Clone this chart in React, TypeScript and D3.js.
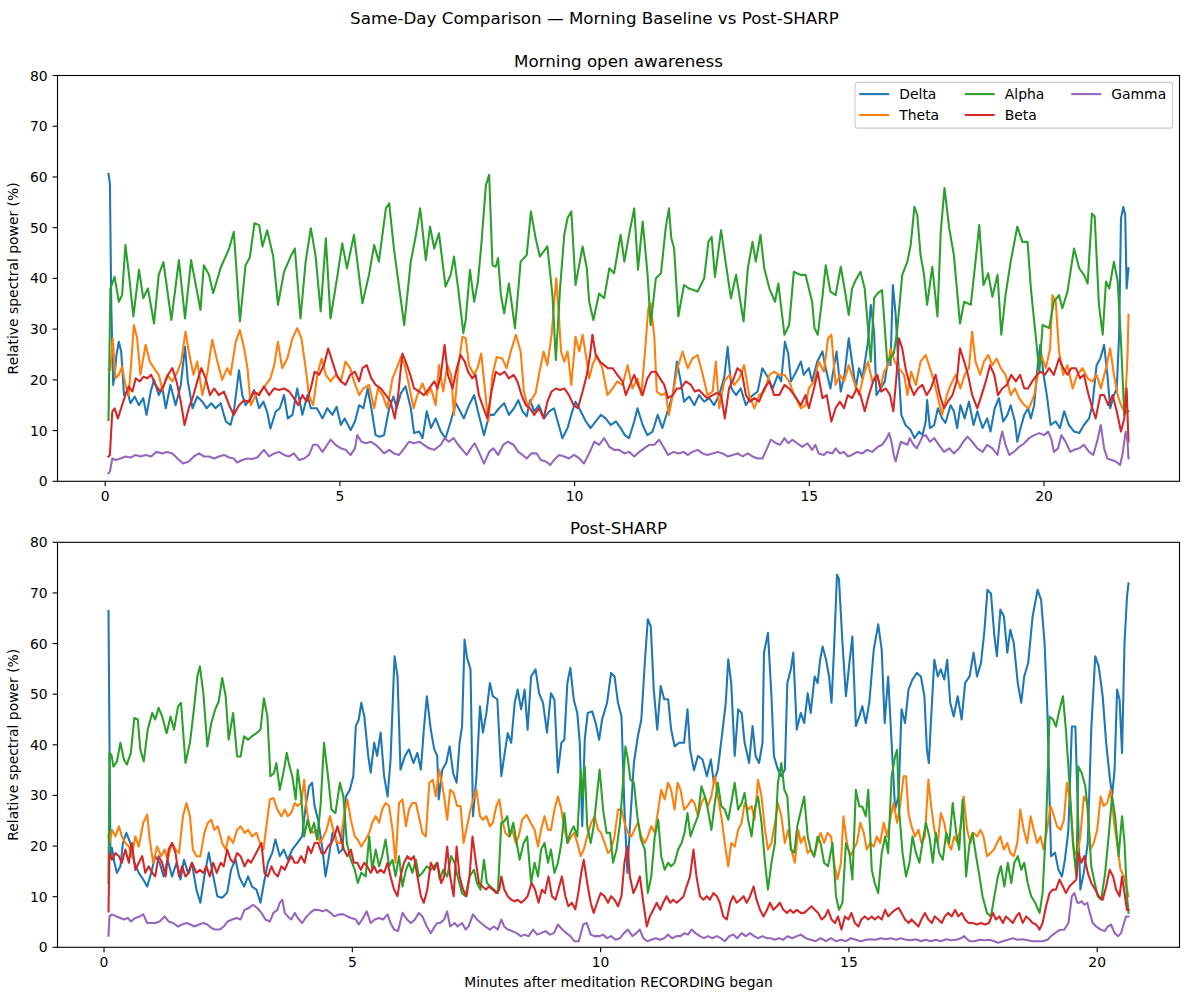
import React from "react";
import * as d3 from "d3";

type Pt = [number, number]; // [minutes, relative power %]

const BANDS = ["Delta", "Theta", "Alpha", "Beta", "Gamma"];
const BAND_COLORS = ["#1f77b4", "#ff7f0e", "#2ca02c", "#d62728", "#9467bd"];
const Y_TICKS = [0, 10, 20, 30, 40, 50, 60, 70, 80];
const X_TICKS = [0, 5, 10, 15, 20];
const Y_DOMAIN: [number, number] = [0, 80];
const SUPTITLE = "Same-Day Comparison — Morning Baseline vs Post-SHARP";
const PANEL_TITLES = ["Morning open awareness", "Post-SHARP"];
const Y_LABEL = "Relative spectral power (%)";
const X_LABEL = "Minutes after meditation RECORDING began";

// ---------------- Morning open awareness ----------------
const morningDelta: Pt[] = [[0.07,60.6],[0.1,58.7],[0.13,34.1],[0.17,19],[0.2,21],[0.24,24.9],[0.29,27.5],[0.34,25.6],[0.4,17],[0.47,17.7],[0.54,15.4],[0.63,16.7],[0.72,15],[0.81,16.4],[0.88,13.1],[0.97,17.7],[1.04,20],[1.14,17],[1.22,18.3],[1.29,14.4],[1.39,19],[1.5,15],[1.61,19],[1.7,26.5],[1.76,19.7],[1.86,14.4],[1.96,16.7],[2.07,15.7],[2.16,14.4],[2.26,15.4],[2.35,14.4],[2.46,15.4],[2.57,11.8],[2.67,11.1],[2.74,13.7],[2.85,21.9],[2.92,17],[2.99,15],[3.1,16.4],[3.17,18],[3.28,14.4],[3.37,15.7],[3.45,13.7],[3.52,10.4],[3.63,13.7],[3.72,14.4],[3.81,17],[3.89,12.4],[3.99,13.1],[4.09,18.3],[4.2,13.1],[4.31,17],[4.38,14.4],[4.51,14.4],[4.63,12.4],[4.73,14.4],[4.84,13.1],[4.93,14.7],[5.02,11.1],[5.1,12.4],[5.23,10.1],[5.32,11.8],[5.41,15],[5.5,14.4],[5.59,18.3],[5.67,14.4],[5.76,9.1],[5.84,8.8],[5.94,9.1],[6.05,14.4],[6.14,16.7],[6.21,14.4],[6.3,17.4],[6.4,18.7],[6.51,14.4],[6.58,9.5],[6.69,9.8],[6.76,8.5],[6.85,13.8],[6.94,10.5],[7.04,12.4],[7.15,9.8],[7.25,8.5],[7.36,11.8],[7.47,15.4],[7.56,13.8],[7.64,12.4],[7.75,15],[7.86,17],[7.94,13.8],[8.07,9.1],[8.18,13.1],[8.28,13.1],[8.39,14.4],[8.5,15.4],[8.6,13.1],[8.71,14.4],[8.8,16],[8.89,13.8],[8.98,12.8],[9.05,16],[9.14,13.8],[9.24,15],[9.35,12.4],[9.46,13.8],[9.56,14.4],[9.65,11.5],[9.74,8.5],[9.85,10.5],[9.95,13.8],[10.02,15.7],[10.13,13.8],[10.24,11.8],[10.34,10.5],[10.45,11.8],[10.56,13.1],[10.66,12.4],[10.77,11.1],[10.88,11.8],[10.98,10.5],[11.07,9.1],[11.16,8.5],[11.27,11.8],[11.34,14.4],[11.45,11.1],[11.55,9.1],[11.66,9.8],[11.77,13.1],[11.87,10.5],[11.98,13.8],[12.09,17],[12.18,23.6],[12.26,19.7],[12.33,15.7],[12.44,16.7],[12.55,15],[12.65,17],[12.76,15.7],[12.87,16.4],[12.97,15],[13.08,17],[13.19,20.6],[13.26,26.5],[13.34,18.3],[13.44,17],[13.54,18.3],[13.65,15],[13.76,16.7],[13.9,17.7],[14.0,22.3],[14.11,20.6],[14.22,18.3],[14.33,21],[14.4,19.7],[14.48,27.5],[14.55,25.2],[14.61,19.7],[14.72,21.6],[14.82,23.6],[14.88,21],[14.99,22.3],[15.06,19.7],[15.17,23.6],[15.28,25.6],[15.35,22.3],[15.45,18.3],[15.52,22.3],[15.58,25.6],[15.67,17.7],[15.75,21],[15.84,28.2],[15.94,21.6],[15.99,18.3],[16.06,22.3],[16.13,20.3],[16.25,27.5],[16.31,34.8],[16.38,29.5],[16.43,17],[16.52,18.3],[16.61,19.7],[16.68,24.2],[16.73,22.9],[16.78,38.7],[16.84,32.8],[16.91,21],[16.96,13.1],[17.05,11.1],[17.16,10.1],[17.24,8.5],[17.34,9.8],[17.41,9.1],[17.48,11.8],[17.51,16],[17.57,10.5],[17.66,11.1],[17.74,14.4],[17.83,12.4],[17.9,11.5],[18.01,15],[18.08,13.8],[18.15,10.5],[18.22,15],[18.31,12.4],[18.4,15.7],[18.5,11.1],[18.58,13.8],[18.69,10.5],[18.79,12.4],[18.86,9.8],[18.95,14.4],[19.04,16.4],[19.13,11.8],[19.22,13.1],[19.29,15],[19.38,11.8],[19.43,7.8],[19.5,10.5],[19.58,13.1],[19.66,14.4],[19.72,12.4],[19.79,15],[19.86,22.3],[19.92,26.9],[19.99,21],[20.06,17],[20.14,11.1],[20.25,11.8],[20.34,10.5],[20.43,13.8],[20.53,11.1],[20.64,9.8],[20.75,9.5],[20.85,11.1],[20.96,12.4],[21.03,15],[21.12,22.9],[21.2,24.2],[21.28,26.9],[21.35,21],[21.41,14.4],[21.49,17],[21.55,18.3],[21.6,28.9],[21.64,51.8],[21.69,54.1],[21.73,52.5],[21.76,38],[21.78,40],[21.8,42]];

const morningTheta: Pt[] = [[0.07,22],[0.11,22],[0.16,28.2],[0.22,20.3],[0.29,21],[0.36,22.6],[0.43,19],[0.5,17],[0.55,22.9],[0.61,30.8],[0.68,28.2],[0.75,21],[0.86,26.9],[0.95,23.6],[1.04,22.3],[1.14,21],[1.22,18],[1.32,21],[1.43,19.7],[1.54,21.6],[1.62,23.6],[1.71,29.5],[1.78,25.6],[1.88,21],[1.96,23.6],[2.07,17],[2.17,21],[2.28,27.9],[2.39,23.6],[2.49,20],[2.6,22.3],[2.67,21],[2.78,27.5],[2.87,29.8],[2.96,26.2],[3.03,22.3],[3.1,15],[3.21,17],[3.31,17.7],[3.42,19],[3.52,20.3],[3.6,22.9],[3.68,27.5],[3.77,22.3],[3.88,24.2],[3.99,28.2],[4.09,30.2],[4.18,28.2],[4.27,22.3],[4.34,17],[4.43,15],[4.52,21],[4.61,24.2],[4.7,21],[4.8,19.7],[4.91,21],[5.02,19.7],[5.12,23.6],[5.22,22.3],[5.3,19.7],[5.41,17],[5.5,18.3],[5.62,19],[5.73,14.4],[5.81,18.3],[5.91,17],[6.01,14.4],[6.12,20.3],[6.21,22.3],[6.3,24.5],[6.38,22.9],[6.47,19],[6.57,14.4],[6.65,17],[6.76,19.3],[6.85,17],[6.94,18.3],[7.04,15],[7.11,22.9],[7.2,17.7],[7.29,22.9],[7.37,21],[7.43,13.1],[7.52,22.3],[7.61,28.5],[7.68,28.2],[7.75,22.9],[7.86,21],[7.93,22.3],[8.01,25.2],[8.08,19],[8.16,11.8],[8.25,21],[8.34,24.5],[8.46,24.2],[8.55,22.3],[8.64,25.6],[8.75,28.9],[8.85,25.6],[8.92,17.7],[9.01,14.4],[9.1,16.4],[9.17,17.4],[9.24,21],[9.34,25.6],[9.42,22.9],[9.51,28.9],[9.56,34.8],[9.61,40],[9.66,33.5],[9.71,25.6],[9.78,23.6],[9.85,25.6],[9.93,19],[10.02,28.5],[10.1,25.6],[10.17,28.9],[10.24,24.9],[10.31,20.3],[10.38,22.9],[10.47,24.9],[10.59,22.3],[10.7,17],[10.81,18.3],[10.91,19.7],[11.02,19],[11.13,22.9],[11.23,18.3],[11.34,20.3],[11.42,17],[11.5,25.6],[11.57,34.1],[11.62,35.1],[11.7,28.2],[11.75,17.7],[11.85,17],[11.94,17.4],[12.01,13.1],[12.09,17],[12.19,22.3],[12.3,25.6],[12.41,22.3],[12.51,24.2],[12.62,24.9],[12.73,21],[12.83,17],[12.94,17.7],[13.01,23.6],[13.08,14.4],[13.19,19.7],[13.3,21],[13.4,19],[13.51,20.3],[13.61,22.9],[13.72,17],[13.83,14.4],[13.93,17],[14.04,17.7],[14.15,21],[14.25,21.6],[14.36,21],[14.47,21],[14.57,19.7],[14.68,17],[14.82,14.4],[14.92,15],[14.99,18.3],[15.1,19.7],[15.2,23.6],[15.31,21.6],[15.4,28.2],[15.47,28.9],[15.56,19],[15.65,21],[15.74,19.7],[15.84,22.9],[15.95,19.7],[16.06,17],[16.16,21],[16.25,23.6],[16.34,19.7],[16.43,21],[16.52,18.3],[16.59,21.6],[16.68,22.9],[16.73,26.2],[16.82,23.6],[16.91,22.3],[17.02,21],[17.09,17],[17.17,21.6],[17.27,19],[17.37,23.6],[17.48,24.9],[17.57,22.3],[17.66,19.7],[17.76,15.7],[17.83,13.1],[17.93,17],[18.01,19],[18.12,21],[18.22,18.3],[18.31,21],[18.4,22.3],[18.47,29.5],[18.54,23.6],[18.64,21],[18.72,23.6],[18.81,24.9],[18.9,22.9],[18.99,24.2],[19.08,22.3],[19.18,21],[19.29,17],[19.38,18.3],[19.47,16.4],[19.58,15],[19.68,14.4],[19.79,17],[19.87,21],[19.94,24.9],[20.04,22.3],[20.13,26.2],[20.18,36.7],[20.25,35.4],[20.32,25.6],[20.41,21],[20.5,22.9],[20.61,18.3],[20.71,21],[20.82,22.3],[20.93,20.3],[21.03,19.7],[21.12,21],[21.21,18.3],[21.32,22.3],[21.41,26.2],[21.49,21],[21.57,17],[21.64,15],[21.71,13.8],[21.76,21],[21.78,24.9],[21.8,32.8]];

const morningAlpha: Pt[] = [[0.07,12.1],[0.11,38],[0.2,40.3],[0.29,35.4],[0.36,36.7],[0.43,46.6],[0.5,41.3],[0.6,32.5],[0.72,41.7],[0.81,36.1],[0.91,38],[1.04,31.1],[1.14,40.7],[1.24,43.2],[1.41,31.8],[1.57,43.6],[1.7,32.1],[1.83,43.6],[2.03,33.8],[2.1,42.6],[2.21,40.7],[2.3,37.1],[2.46,42.1],[2.64,45.9],[2.74,49.2],[2.87,31.5],[2.99,42.6],[3.08,44.1],[3.18,50.9],[3.28,50.5],[3.35,46.3],[3.45,49.5],[3.58,44.3],[3.68,34.8],[3.81,41.3],[3.95,44.3],[4.04,45.9],[4.16,32.1],[4.27,43.3],[4.38,49.9],[4.48,44.6],[4.59,33.5],[4.7,47.9],[4.8,32.1],[4.95,40.7],[5.05,46.9],[5.15,42],[5.3,48.6],[5.48,35.1],[5.62,40.7],[5.73,46.6],[5.83,43.3],[5.98,53.8],[6.05,54.8],[6.15,45.9],[6.37,30.8],[6.51,43.3],[6.62,48.6],[6.71,53.8],[6.83,43.6],[6.92,50.2],[7.01,45.9],[7.11,48.9],[7.25,38.4],[7.36,40.7],[7.43,44.3],[7.52,38],[7.63,29.2],[7.68,31.8],[7.77,41.7],[7.86,35.4],[7.94,39.4],[8.01,46.3],[8.11,58.4],[8.18,60.4],[8.25,42.6],[8.32,42.3],[8.37,44],[8.43,36.7],[8.5,33.1],[8.6,39],[8.73,30.2],[8.85,43.3],[8.98,44.6],[9.07,53.2],[9.17,47.9],[9.26,44.3],[9.42,46.3],[9.53,36.4],[9.6,23.9],[9.69,38],[9.78,48.6],[9.85,51.9],[9.93,53.2],[10.02,38.7],[10.17,46.3],[10.26,42],[10.31,35.4],[10.4,31.8],[10.52,37],[10.63,36.1],[10.74,42],[10.84,41],[10.98,48.6],[11.06,43.3],[11.16,48.6],[11.27,53.8],[11.35,41.7],[11.45,51.2],[11.55,41.3],[11.62,30.8],[11.73,40],[11.84,41],[11.94,49.9],[12.01,53.8],[12.06,47.9],[12.12,45.9],[12.21,32.5],[12.33,38.7],[12.44,38],[12.62,37.4],[12.76,40],[12.85,47.2],[12.92,48.2],[12.99,40.3],[13.12,49.5],[13.22,43],[13.33,36.1],[13.44,40.7],[13.6,31.5],[13.69,42],[13.79,47.2],[13.86,43.3],[13.96,48.6],[14.04,42],[14.15,38],[14.27,35.4],[14.34,39],[14.47,28.9],[14.57,30.8],[14.67,41.3],[14.81,40.7],[14.92,40.7],[14.99,38],[15.06,35.4],[15.11,30.2],[15.18,28.9],[15.28,36.4],[15.35,42.6],[15.45,37.4],[15.56,36.7],[15.67,42.3],[15.75,38],[15.84,32.8],[15.91,38],[15.99,39.7],[16.09,41.3],[16.18,38],[16.31,23.6],[16.38,36.1],[16.46,37.1],[16.55,37.7],[16.66,23.6],[16.8,25.2],[16.87,29.5],[16.98,40.7],[17.09,43.3],[17.16,46.6],[17.24,54.1],[17.3,52.5],[17.37,44.6],[17.44,41],[17.51,34.8],[17.62,42.3],[17.73,32.5],[17.8,49.2],[17.88,57.8],[17.98,49.9],[18.08,44.6],[18.21,31.1],[18.3,35.4],[18.44,34.8],[18.54,43.3],[18.62,50.5],[18.71,38.7],[18.81,41],[18.9,36.4],[19.01,40.7],[19.09,28.9],[19.18,36.7],[19.29,43.3],[19.43,50.2],[19.54,47.2],[19.65,47.2],[19.72,38],[19.82,28.9],[19.9,21.6],[19.97,30.8],[20.11,30.2],[20.21,35.4],[20.32,36.7],[20.39,34.1],[20.5,37.4],[20.64,45.9],[20.75,42],[20.85,40.7],[20.93,39],[21.02,52.8],[21.08,52.2],[21.17,34.8],[21.25,28.9],[21.32,39.4],[21.39,38],[21.49,43.3],[21.57,39.4],[21.64,27.5],[21.71,13.1],[21.76,13.8],[21.8,13.8]];

const morningBeta: Pt[] = [[0.07,4.9],[0.1,5.2],[0.15,13.7],[0.2,14.4],[0.27,12.4],[0.36,15],[0.43,17],[0.5,18.7],[0.58,17.7],[0.65,20.3],[0.74,19.7],[0.81,20.6],[0.9,20.3],[0.98,21],[1.07,19],[1.17,17.7],[1.25,19],[1.34,21],[1.43,22.3],[1.52,19.7],[1.61,15.7],[1.69,11.1],[1.78,14.4],[1.88,17],[1.96,19.7],[2.05,22.3],[2.14,20.3],[2.23,17],[2.32,18.3],[2.42,17],[2.53,17.7],[2.64,15],[2.74,13.1],[2.85,15],[2.96,16],[3.06,15.7],[3.17,17.7],[3.28,17],[3.38,18.7],[3.49,17],[3.6,18.3],[3.7,18],[3.81,18.3],[3.92,17.7],[4.02,16.4],[4.11,15],[4.2,17],[4.29,15.7],[4.38,18.3],[4.46,21.6],[4.56,21],[4.66,22.9],[4.75,26.2],[4.84,23.6],[4.93,21],[5.02,19.7],[5.12,19],[5.22,21],[5.32,21.6],[5.41,19.7],[5.48,22.3],[5.57,22.9],[5.67,20.3],[5.76,19],[5.87,18.3],[5.98,17],[6.08,15.7],[6.17,12.4],[6.24,17],[6.33,25.2],[6.4,23.6],[6.5,21],[6.58,18.3],[6.69,17.7],[6.79,17],[6.9,18.3],[7.01,19.7],[7.08,18.3],[7.15,21],[7.23,26.9],[7.3,21],[7.4,18.3],[7.49,22.3],[7.57,24.9],[7.66,23.6],[7.73,21.6],[7.82,20.3],[7.89,21],[7.96,17],[8.06,14.4],[8.14,12.4],[8.23,17.7],[8.32,21.6],[8.41,21],[8.51,21.6],[8.6,20.3],[8.7,21],[8.78,19.7],[8.87,17],[8.96,15],[9.05,14.4],[9.14,13.1],[9.24,14.4],[9.34,12.4],[9.42,15.7],[9.51,17.7],[9.6,18.3],[9.69,18],[9.78,18.3],[9.88,17],[9.98,15],[10.07,14.4],[10.17,17.7],[10.26,21],[10.33,24.9],[10.38,28.9],[10.45,24.9],[10.54,23.6],[10.63,22.9],[10.71,22.3],[10.81,22.3],[10.91,21],[11.02,19.7],[11.09,17],[11.18,19],[11.27,21],[11.35,19],[11.45,17],[11.55,20.3],[11.64,21.6],[11.73,21.6],[11.82,20.3],[11.91,19],[11.99,16.4],[12.09,17],[12.18,18.3],[12.26,18.3],[12.37,19.7],[12.48,19],[12.56,17.7],[12.65,18],[12.75,17],[12.83,16.4],[12.94,17],[13.03,17.4],[13.12,17],[13.2,12.4],[13.29,18.3],[13.39,20.3],[13.47,22.3],[13.56,21.6],[13.65,17],[13.74,15.7],[13.83,16.4],[13.93,15.7],[14.04,18.3],[14.15,19.7],[14.25,17],[14.36,17],[14.47,19],[14.57,18.3],[14.68,17],[14.82,15],[14.92,17],[14.99,14.4],[15.1,18.3],[15.18,21.6],[15.28,16.4],[15.37,17],[15.47,11.8],[15.56,14.4],[15.65,15.7],[15.74,14.4],[15.82,17],[15.91,16.4],[16.01,18.3],[16.09,17],[16.18,13.8],[16.27,17],[16.36,19.7],[16.45,21],[16.53,17.7],[16.63,18.3],[16.72,17],[16.79,13.8],[16.86,21],[16.91,28.2],[16.98,26.2],[17.05,22.3],[17.14,19],[17.23,17],[17.31,18.3],[17.41,19],[17.5,17],[17.59,18.3],[17.69,21],[17.78,17],[17.87,14.4],[17.95,15.7],[18.05,17],[18.14,19.7],[18.21,26.2],[18.3,23.6],[18.38,21],[18.47,17],[18.58,14.4],[18.67,17],[18.76,19.7],[18.85,22.9],[18.94,21],[19.02,17],[19.11,18.3],[19.21,19],[19.3,21],[19.4,19.7],[19.49,21],[19.58,18.3],[19.66,18.3],[19.75,19.7],[19.85,21],[19.93,21.6],[20.02,21],[20.11,22.3],[20.21,21],[20.32,24.2],[20.41,22.3],[20.5,21],[20.58,22.3],[20.68,22.3],[20.77,20.3],[20.85,21],[20.95,17],[21.03,14.4],[21.1,12.4],[21.2,17],[21.28,17],[21.37,15],[21.46,17],[21.55,13.8],[21.64,9.8],[21.71,12.4],[21.76,18.3],[21.8,7.8]];

const morningGamma: Pt[] = [[0.07,1.6],[0.1,1.9],[0.15,4.5],[0.22,4.2],[0.33,4.5],[0.43,4.9],[0.54,4.7],[0.65,5.2],[0.75,4.9],[0.86,5.2],[0.98,4.9],[1.09,5.8],[1.22,5.5],[1.32,5.8],[1.43,5.5],[1.54,4.5],[1.66,3.5],[1.78,3.9],[1.89,4.9],[2.0,5.5],[2.1,4.9],[2.21,4.9],[2.32,4.5],[2.42,4.9],[2.53,5.2],[2.64,4.7],[2.74,4.5],[2.81,3.7],[2.92,4.2],[3.03,4.5],[3.13,4.4],[3.24,4.7],[3.38,6.2],[3.49,4.9],[3.6,5.5],[3.7,5.8],[3.81,5.2],[3.92,4.9],[4.02,5.5],[4.13,4.2],[4.24,4.5],[4.34,5.2],[4.43,7.2],[4.52,7.2],[4.63,5.8],[4.73,7.2],[4.8,8.2],[4.91,7.2],[5.02,6.5],[5.12,6.2],[5.23,5.2],[5.32,6.5],[5.37,9.1],[5.46,7.8],[5.55,7.5],[5.66,7.8],[5.76,7.2],[5.84,6.5],[5.94,5.5],[6.05,6.2],[6.15,5.5],[6.26,5.2],[6.37,6.5],[6.47,7.8],[6.58,7.5],[6.69,7.8],[6.79,7.2],[6.9,6.5],[7.01,6.2],[7.15,7.2],[7.23,8.5],[7.32,7.8],[7.42,8.5],[7.52,7.2],[7.61,6.2],[7.7,5.2],[7.79,6.5],[7.87,7.5],[7.96,5.8],[8.07,3.5],[8.18,5.8],[8.27,6.5],[8.37,5.2],[8.48,7.2],[8.58,7.8],[8.7,7.2],[8.8,5.8],[8.89,5.2],[8.98,4.5],[9.08,5.5],[9.19,5.5],[9.28,4.2],[9.39,3.9],[9.48,3.2],[9.56,4.2],[9.67,5.2],[9.78,4.9],[9.88,4.5],[9.99,5.2],[10.1,4.5],[10.2,3.5],[10.31,5.5],[10.42,7.8],[10.52,7.2],[10.63,8.5],[10.74,6.8],[10.84,6.2],[10.95,6.2],[11.06,5.5],[11.16,5.8],[11.27,4.9],[11.38,5.8],[11.48,6.5],[11.59,7.2],[11.7,7.2],[11.8,8.2],[11.91,6.5],[11.99,5.2],[12.11,5.8],[12.21,5.5],[12.32,5.8],[12.41,5.2],[12.51,5.8],[12.62,6.2],[12.73,5.5],[12.83,5.2],[12.94,5.5],[13.05,5.8],[13.15,5.5],[13.26,4.9],[13.37,5.2],[13.47,5.5],[13.58,4.9],[13.69,5.5],[13.79,4.9],[13.9,4.5],[14.0,4.5],[14.1,6.5],[14.18,8.2],[14.29,7.5],[14.38,7.2],[14.47,8.5],[14.55,7.5],[14.64,8.2],[14.74,7.5],[14.85,6.8],[14.96,7.5],[15.06,6.2],[15.13,7.2],[15.2,5.5],[15.31,5.2],[15.38,5.8],[15.49,5.5],[15.56,6.5],[15.65,5.5],[15.74,5.8],[15.82,4.9],[15.91,5.2],[16.02,5.8],[16.13,5.5],[16.23,6.2],[16.34,5.8],[16.46,6.8],[16.55,7.2],[16.65,8.5],[16.7,9.5],[16.75,7.8],[16.8,5.2],[16.84,3.9],[16.89,5.8],[16.95,7.8],[17.02,7.5],[17.09,7.2],[17.14,8.5],[17.22,7.2],[17.29,6.5],[17.41,8.8],[17.48,9.1],[17.57,7.8],[17.66,8.5],[17.76,7.2],[17.87,5.8],[17.98,6.5],[18.08,5.5],[18.19,6.5],[18.28,7.8],[18.37,8.8],[18.47,7.8],[18.58,6.5],[18.69,5.8],[18.79,7.2],[18.9,6.5],[19.01,5.2],[19.06,7.8],[19.11,9.8],[19.18,7.2],[19.26,5.2],[19.36,5.8],[19.47,6.8],[19.58,7.5],[19.68,8.5],[19.79,9.1],[19.9,9.5],[20.0,9.1],[20.09,9.8],[20.16,8.2],[20.21,5.8],[20.3,6.5],[20.37,9.1],[20.46,7.8],[20.56,5.8],[20.64,6.2],[20.75,6.5],[20.85,7.2],[20.96,5.8],[21.05,5.2],[21.14,8.2],[21.21,11.1],[21.28,6.5],[21.35,4.5],[21.44,4.2],[21.53,3.9],[21.62,3.2],[21.67,5.2],[21.74,9.8],[21.78,7.8],[21.8,4.5]];

// ---------------- Post-SHARP ----------------
const postDelta: Pt[] = [[0.09,66.4],[0.11,40.4],[0.13,18],[0.16,19.6],[0.21,16.7],[0.26,14.7],[0.33,16],[0.38,20.6],[0.45,22.6],[0.53,20.6],[0.61,16.7],[0.7,14.7],[0.79,13.4],[0.87,12],[0.95,14.7],[1.03,18],[1.12,16.7],[1.2,14],[1.28,17.3],[1.37,14],[1.46,16.7],[1.54,13.4],[1.61,17.3],[1.69,14.7],[1.77,16.7],[1.86,11.4],[1.94,8.8],[2.02,14],[2.11,18.7],[2.2,14],[2.28,10.1],[2.38,9.8],[2.48,10.8],[2.56,15.4],[2.65,17.3],[2.72,14],[2.82,12],[2.9,14],[2.98,12],[3.07,11.4],[3.15,8.8],[3.22,12.7],[3.3,16.7],[3.39,18.7],[3.45,21.3],[3.54,18],[3.62,19.3],[3.7,17.3],[3.79,19.3],[3.89,20.6],[3.99,21.9],[4.06,27.9],[4.13,31.8],[4.19,32.5],[4.24,27.9],[4.31,25.2],[4.4,19.3],[4.46,14],[4.53,18],[4.6,22.6],[4.66,21.9],[4.73,18.6],[4.8,19.3],[4.87,29.8],[4.95,31.1],[5.02,33.8],[5.07,43.7],[5.13,45],[5.18,48.3],[5.24,45.7],[5.32,37.8],[5.37,34.5],[5.44,40.4],[5.5,37.8],[5.57,42.4],[5.64,33.8],[5.71,29.8],[5.77,37.1],[5.85,57.5],[5.91,53.5],[5.97,35.1],[6.06,37.8],[6.14,39.1],[6.23,36.4],[6.31,38.4],[6.38,35.1],[6.44,43],[6.5,49.6],[6.58,43],[6.65,39.1],[6.71,37.8],[6.74,29.2],[6.81,35],[6.89,36.4],[6.96,39.7],[7.03,34.4],[7.1,32.5],[7.16,40.4],[7.21,43.7],[7.26,60.8],[7.31,57.2],[7.38,54.9],[7.43,25.9],[7.5,33.8],[7.57,47.6],[7.63,42.4],[7.7,46.3],[7.77,52.2],[7.83,49.6],[7.92,49],[8.0,33.8],[8.06,37.8],[8.13,42.3],[8.2,40.4],[8.27,48.3],[8.33,50.9],[8.4,47],[8.47,50.9],[8.53,43],[8.6,53.5],[8.69,54.9],[8.76,50.2],[8.84,48.3],[8.92,42.4],[9.0,50.2],[9.07,48.9],[9.14,34.5],[9.21,40.4],[9.27,41],[9.33,52.2],[9.39,55.2],[9.46,48.9],[9.53,46.3],[9.58,40.4],[9.63,23.9],[9.68,41],[9.74,46.3],[9.83,46.6],[9.9,44.3],[9.97,41],[10.03,45],[10.13,48.3],[10.21,54.2],[10.28,53.5],[10.35,48.3],[10.42,45.6],[10.48,27.2],[10.54,14.7],[10.59,23.9],[10.67,36.4],[10.75,41.7],[10.82,45],[10.89,56.2],[10.95,64.8],[11.01,63.4],[11.07,50.9],[11.14,43],[11.21,51.6],[11.28,49],[11.36,49],[11.42,43],[11.49,39.7],[11.58,40.4],[11.68,40.4],[11.75,47],[11.8,39.1],[11.88,35],[11.96,37.8],[12.05,37.1],[12.14,33.8],[12.22,37.1],[12.28,32.5],[12.36,35.1],[12.45,42.4],[12.52,48.3],[12.57,56.9],[12.63,52.2],[12.7,37.8],[12.77,47],[12.84,46.3],[12.9,40.4],[12.99,36.4],[13.06,43.7],[13.12,37.8],[13.19,36.4],[13.26,40.4],[13.29,58.2],[13.37,62.1],[13.44,49.6],[13.49,37.8],[13.57,35.1],[13.64,33.8],[13.71,35.1],[13.76,52.2],[13.83,54.9],[13.88,58.2],[13.95,43],[14.03,46.3],[14.1,44.3],[14.17,50.2],[14.23,46.3],[14.31,53.5],[14.37,52.2],[14.42,56.8],[14.47,59.4],[14.54,56.8],[14.6,53.5],[14.65,48.3],[14.7,58.8],[14.76,73.6],[14.8,72.7],[14.87,60.1],[14.94,49.6],[15.01,56.2],[15.07,61.4],[15.14,43.7],[15.21,45.6],[15.27,47.6],[15.34,44.3],[15.41,48.3],[15.5,58.8],[15.59,63.8],[15.66,58.8],[15.72,44.3],[15.79,53.5],[15.86,40.4],[15.93,27.2],[16.0,29.9],[16.06,47],[16.13,44.3],[16.2,50.9],[16.28,52.9],[16.37,54.2],[16.45,53.5],[16.52,49.6],[16.57,39.1],[16.61,36.4],[16.65,44.3],[16.72,56.8],[16.79,53.5],[16.85,54.9],[16.92,52.9],[16.98,56.8],[17.04,48.3],[17.11,45.6],[17.19,49.6],[17.27,45],[17.34,52.2],[17.43,53.5],[17.51,58.2],[17.58,53.5],[17.66,56.2],[17.73,62.7],[17.79,70.6],[17.86,69.9],[17.93,61.4],[17.98,57.5],[18.05,66.7],[18.12,65.4],[18.19,58.2],[18.25,62.7],[18.32,60.1],[18.4,52.2],[18.47,48.3],[18.53,53.5],[18.61,56.2],[18.7,65.4],[18.8,70.6],[18.87,68.6],[18.94,60.1],[19.0,45.6],[19.07,18],[19.15,18.7],[19.22,15.3],[19.29,14],[19.35,17.3],[19.42,23.2],[19.49,43.6],[19.56,43.6],[19.61,27.2],[19.66,11.4],[19.73,14.7],[19.81,20.6],[19.88,43],[19.96,57.5],[20.03,55.5],[20.11,49.6],[20.18,40.4],[20.25,33.8],[20.3,29.9],[20.35,35.1],[20.4,50.9],[20.45,48.9],[20.5,38.4],[20.55,60.1],[20.6,69.3],[20.63,71.9]];

const postTheta: Pt[] = [[0.09,21.9],[0.11,20.6],[0.16,23.2],[0.23,21.9],[0.3,23.9],[0.36,21.9],[0.43,20.6],[0.5,19.9],[0.56,17.9],[0.63,21.9],[0.7,19.9],[0.79,24.6],[0.87,26.2],[0.92,21.3],[0.99,16.7],[1.07,19.9],[1.15,18],[1.22,19.3],[1.28,17.3],[1.37,20.6],[1.44,19.3],[1.51,18.6],[1.59,25.9],[1.66,28.5],[1.73,25.9],[1.79,19.3],[1.86,18],[1.94,18],[2.02,22.6],[2.09,24.6],[2.16,25.2],[2.22,23.2],[2.29,23.9],[2.38,20.6],[2.45,19.3],[2.51,21.9],[2.6,20.6],[2.68,23.2],[2.75,23.9],[2.83,22.6],[2.9,23.2],[2.98,21.9],[3.07,22.6],[3.14,20.6],[3.21,19.3],[3.27,23.9],[3.34,29.2],[3.41,29.5],[3.49,27.2],[3.57,25.9],[3.64,27.2],[3.7,25.9],[3.77,26.5],[3.84,28.5],[3.9,27.9],[3.97,28.5],[4.03,33.1],[4.08,27.2],[4.15,23.2],[4.21,22.6],[4.28,23.2],[4.35,20.6],[4.42,21.9],[4.48,23.2],[4.55,25.9],[4.63,22.6],[4.7,20.6],[4.76,20.6],[4.83,25.9],[4.9,29.2],[4.97,25.2],[5.05,21.9],[5.11,21.3],[5.18,19.9],[5.27,21.3],[5.34,22.6],[5.4,24.6],[5.47,25.9],[5.54,24.6],[5.6,27.2],[5.67,28.5],[5.74,27.9],[5.81,23.2],[5.87,16.7],[5.94,28.5],[6.01,29.2],[6.08,23.9],[6.14,27.2],[6.21,28.5],[6.28,28.5],[6.34,25.9],[6.41,22.6],[6.48,21.9],[6.55,32.5],[6.62,33.1],[6.68,29.8],[6.75,35.1],[6.8,32.5],[6.85,29.8],[6.91,25.2],[6.97,31.1],[7.04,30.5],[7.11,27.9],[7.18,27.9],[7.24,20.6],[7.31,23.9],[7.38,27.2],[7.45,29.8],[7.5,31.1],[7.57,25.9],[7.63,25.2],[7.7,25.9],[7.77,23.9],[7.83,24.6],[7.9,27.9],[7.96,29.2],[8.02,25.2],[8.08,22.6],[8.15,21.9],[8.22,23.2],[8.29,20.6],[8.35,21.9],[8.42,25.2],[8.51,26.2],[8.59,24.6],[8.67,23.2],[8.74,19.9],[8.8,23.2],[8.87,25.9],[8.94,23.2],[9.0,23.2],[9.07,27.2],[9.14,29.8],[9.21,27.2],[9.27,23.2],[9.34,20.6],[9.41,21.9],[9.47,22.6],[9.53,20.6],[9.6,18],[9.66,19.3],[9.73,21.9],[9.81,24.6],[9.88,25.9],[9.95,23.2],[10.01,22.6],[10.08,20.6],[10.15,18.6],[10.21,19.3],[10.28,21.9],[10.35,27.2],[10.42,27.2],[10.48,24.6],[10.55,22.6],[10.62,21.9],[10.68,23.2],[10.75,24.6],[10.82,21.9],[10.89,20.6],[10.95,21.9],[11.02,23.9],[11.09,22.6],[11.16,27.2],[11.22,31.1],[11.29,29.2],[11.36,32.5],[11.42,31.1],[11.49,27.2],[11.55,32.5],[11.61,31.1],[11.68,27.2],[11.75,27.9],[11.83,29.2],[11.89,28.5],[11.96,25.9],[12.03,28.5],[12.1,29.8],[12.16,27.9],[12.23,29.8],[12.3,33.8],[12.36,29.8],[12.43,25.9],[12.5,20.6],[12.57,16],[12.63,20.6],[12.7,19.9],[12.77,23.2],[12.84,24.6],[12.9,28.5],[12.97,27.2],[13.04,27.9],[13.1,25.2],[13.17,33.1],[13.24,29.8],[13.31,23.2],[13.37,19.3],[13.44,20.6],[13.51,24.6],[13.57,28.5],[13.64,25.9],[13.71,20.6],[13.78,23.2],[13.84,19.3],[13.91,16.7],[13.98,23.2],[14.03,20.6],[14.1,21.9],[14.17,18.6],[14.23,19.3],[14.3,18],[14.37,20.6],[14.43,22.6],[14.5,20.6],[14.57,22.6],[14.64,21.9],[14.7,16.7],[14.77,13.4],[14.84,16.7],[14.89,25.9],[14.96,20.6],[15.03,18],[15.09,19.3],[15.16,20.6],[15.23,24.6],[15.3,22.6],[15.36,19.3],[15.43,20.6],[15.5,19.9],[15.56,21.9],[15.63,20.6],[15.7,24.6],[15.77,21.9],[15.83,25.2],[15.9,28.5],[15.97,24.6],[16.03,27.9],[16.1,33.8],[16.15,33.8],[16.2,26.5],[16.26,23.9],[16.33,21.9],[16.4,23.2],[16.46,20.6],[16.53,21.9],[16.6,33.1],[16.65,28.5],[16.72,23.2],[16.79,20.6],[16.85,26.5],[16.92,24.6],[16.99,20.6],[17.06,19.3],[17.12,21.9],[17.19,20.6],[17.26,24.6],[17.31,29.8],[17.38,23.2],[17.45,20.6],[17.51,22.6],[17.58,21.9],[17.65,23.2],[17.71,21.9],[17.78,18],[17.85,18.6],[17.92,19.3],[17.98,20.6],[18.05,21.9],[18.12,19.3],[18.19,20.6],[18.25,18.6],[18.32,18],[18.39,20.6],[18.45,27.2],[18.52,23.2],[18.59,20.6],[18.66,25.9],[18.72,23.2],[18.79,20.6],[18.86,21.9],[18.92,19.3],[18.99,23.2],[19.06,27.9],[19.13,25.9],[19.19,23.9],[19.26,23.2],[19.33,25.2],[19.39,32.5],[19.46,28.5],[19.53,19.3],[19.6,18],[19.66,21.9],[19.73,29.8],[19.8,28.5],[19.86,19.3],[19.93,20.6],[20.0,23.2],[20.07,29.8],[20.13,27.9],[20.2,28.5],[20.27,31.1],[20.34,24.6],[20.4,20.6],[20.47,15.3],[20.54,14],[20.6,11.4],[20.63,10.1]];

const postAlpha: Pt[] = [[0.09,12.7],[0.11,38.4],[0.15,38],[0.19,35.7],[0.26,36.7],[0.33,40.4],[0.4,37.1],[0.46,36.1],[0.54,38.4],[0.61,45.3],[0.68,45],[0.73,39.1],[0.8,36.7],[0.88,43],[0.97,46.3],[1.03,45],[1.1,47.3],[1.17,45.6],[1.26,42.3],[1.34,45.6],[1.41,43],[1.49,47.6],[1.55,48.3],[1.64,36.4],[1.73,40.4],[1.81,47],[1.88,53.5],[1.93,55.5],[2.0,50.2],[2.08,39.7],[2.16,44.3],[2.24,47],[2.31,48.6],[2.38,53.2],[2.45,49.6],[2.51,41],[2.6,46.3],[2.68,37.7],[2.75,37.7],[2.82,41.7],[2.9,41],[2.98,41.7],[3.07,42.3],[3.15,43],[3.22,49.2],[3.29,45.6],[3.35,33.8],[3.42,34.4],[3.47,36.4],[3.54,31.1],[3.61,34.4],[3.68,38.4],[3.72,36.4],[3.79,33.8],[3.86,29.2],[3.9,35.1],[3.97,29.8],[4.03,21.9],[4.1,25.2],[4.16,22.6],[4.23,24.6],[4.29,21.3],[4.36,27.9],[4.43,40.4],[4.51,33.8],[4.58,27.2],[4.66,26.5],[4.75,32.5],[4.82,29.8],[4.89,20.6],[4.97,17.3],[5.05,15.3],[5.11,12.7],[5.18,14.7],[5.27,14],[5.34,21.9],[5.4,15.3],[5.47,19.3],[5.54,16],[5.6,18],[5.67,21.3],[5.74,16],[5.81,17.3],[5.87,14],[5.94,18],[6.01,12],[6.08,15.3],[6.14,16.7],[6.21,14.7],[6.28,17.3],[6.34,14],[6.41,14.7],[6.5,16],[6.58,15.3],[6.71,16.7],[6.76,13.4],[6.83,15.3],[6.91,14],[6.99,18],[7.06,16.7],[7.12,14],[7.21,10.7],[7.28,10.1],[7.36,14],[7.45,15.3],[7.51,12.7],[7.58,11.4],[7.65,17.3],[7.71,12.7],[7.78,12],[7.85,11.4],[7.93,10.7],[8.0,24.6],[8.06,24.9],[8.12,25.9],[8.17,21.9],[8.24,24.6],[8.31,20.6],[8.37,17.3],[8.45,20.6],[8.52,21.9],[8.6,12.7],[8.67,16.7],[8.74,14],[8.8,19.3],[8.87,20.6],[8.94,16.7],[9.0,19.3],[9.07,14.7],[9.14,16.7],[9.21,20.6],[9.27,26.5],[9.33,20.6],[9.39,22.6],[9.46,23.9],[9.53,21.9],[9.6,35.1],[9.64,29.8],[9.68,35.7],[9.73,23.9],[9.8,20.6],[9.86,23.9],[9.93,30.5],[9.98,35.1],[10.05,27.2],[10.12,22.6],[10.19,22.6],[10.25,16.7],[10.32,19.3],[10.39,24.6],[10.46,33.8],[10.5,39.7],[10.55,37.1],[10.6,33.1],[10.67,32.5],[10.74,25.9],[10.81,21.3],[10.89,19.3],[10.95,10.7],[11.02,14],[11.09,21.9],[11.16,25.2],[11.22,18],[11.29,15.3],[11.36,16.7],[11.42,16],[11.49,16.7],[11.56,19.3],[11.63,20.6],[11.69,22.6],[11.75,26.5],[11.81,21.9],[11.88,23.9],[11.96,25.9],[12.03,31.8],[12.1,29.8],[12.16,27.2],[12.23,23.2],[12.3,28.5],[12.36,32.5],[12.43,27.9],[12.5,27.2],[12.57,25.2],[12.63,28.5],[12.7,32.5],[12.77,27.2],[12.84,28.5],[12.9,30.5],[12.97,25.2],[13.04,21.9],[13.1,27.2],[13.17,29.8],[13.24,24.6],[13.31,16.7],[13.37,11.4],[13.44,16.7],[13.51,20.6],[13.57,32.5],[13.64,36.4],[13.7,31.1],[13.76,29.8],[13.83,19.3],[13.9,18.7],[13.96,23.9],[14.1,29.8],[14.17,21.9],[14.23,19.3],[14.3,17.9],[14.37,21.9],[14.43,20.6],[14.5,16.7],[14.58,16],[14.67,20.6],[14.74,10.1],[14.8,7.4],[14.87,8.8],[14.94,20.6],[15.01,18.6],[15.07,13.4],[15.14,31.1],[15.21,27.8],[15.27,27.8],[15.34,25.9],[15.39,31.1],[15.46,15.3],[15.52,12.7],[15.59,10.7],[15.66,18.6],[15.73,21.9],[15.79,18.6],[15.86,33.8],[15.93,37.7],[15.97,39],[16.01,27.2],[16.08,18.6],[16.15,14],[16.22,16.7],[16.28,21.9],[16.35,18.6],[16.42,16.7],[16.48,20.6],[16.55,24.6],[16.62,21.9],[16.69,16.7],[16.75,22.6],[16.82,18.6],[16.89,17.3],[16.96,22.6],[17.02,20.6],[17.09,28.5],[17.16,22.6],[17.22,19.3],[17.29,29.2],[17.36,14],[17.43,20.6],[17.49,22.6],[17.56,18],[17.63,14],[17.69,10.1],[17.78,6.8],[17.86,6.1],[17.93,10.1],[18.0,14],[18.06,16],[18.13,12],[18.2,16.7],[18.27,12.7],[18.33,16.7],[18.4,18],[18.47,15.3],[18.53,16.7],[18.6,12.7],[18.67,10.1],[18.75,8.8],[18.84,6.8],[18.9,10.7],[18.97,23.9],[19.04,45.6],[19.11,45],[19.17,43.6],[19.24,46.9],[19.31,49.6],[19.37,42.9],[19.44,32.5],[19.51,20.6],[19.58,14],[19.62,35.7],[19.69,34.4],[19.76,31.8],[19.81,27.2],[19.88,16],[19.95,12.7],[20.01,10.1],[20.08,9.4],[20.16,14.7],[20.23,21.9],[20.3,29.8],[20.36,25.9],[20.43,18],[20.5,25.9],[20.55,20.6],[20.6,10.1],[20.63,6.8]];

const postBeta: Pt[] = [[0.09,7.1],[0.11,18.6],[0.16,17.3],[0.23,18.6],[0.3,18],[0.36,16.7],[0.43,19.3],[0.5,16.7],[0.56,20.6],[0.63,15.3],[0.7,16.7],[0.77,18],[0.83,14.7],[0.9,16],[0.97,14.7],[1.03,14],[1.1,18],[1.17,16.7],[1.24,14],[1.3,19.3],[1.37,20.6],[1.44,18.6],[1.51,14],[1.57,16],[1.64,14],[1.71,14.7],[1.77,16.7],[1.86,14.7],[1.93,15.3],[2.0,14.7],[2.06,16],[2.13,14],[2.2,16.7],[2.27,14.7],[2.35,16.7],[2.41,16],[2.48,19.3],[2.55,17.3],[2.61,16.7],[2.68,18.6],[2.75,18],[2.83,16],[2.9,17.3],[2.96,16.7],[3.03,18],[3.1,19.3],[3.17,20.6],[3.23,14.7],[3.3,14],[3.37,16],[3.43,14.7],[3.5,14],[3.57,16],[3.64,15.3],[3.7,16.7],[3.77,18],[3.84,16.7],[3.9,16.7],[3.97,18],[4.04,16.7],[4.11,19.9],[4.17,18.6],[4.24,20.6],[4.31,20.6],[4.38,18.6],[4.44,18.6],[4.51,19.9],[4.58,20.6],[4.64,21.9],[4.7,23.9],[4.76,21.9],[4.83,19.3],[4.9,18],[4.97,19.3],[5.03,16.7],[5.1,16.7],[5.17,15.3],[5.24,16.7],[5.3,16],[5.37,14.7],[5.44,16],[5.5,14.7],[5.57,15.3],[5.64,14.7],[5.71,16.7],[5.77,14],[5.84,11.4],[5.91,10.1],[5.97,14],[6.04,16.7],[6.11,18],[6.18,17.3],[6.24,18],[6.31,14],[6.38,10.1],[6.44,8.8],[6.51,11.4],[6.58,16.7],[6.65,15.3],[6.71,16.7],[6.79,12.7],[6.85,14],[6.91,19.9],[6.97,14],[7.04,10.1],[7.1,19.9],[7.16,14],[7.23,11.4],[7.3,10.1],[7.36,14],[7.42,21.9],[7.49,16.7],[7.55,12.7],[7.62,12],[7.69,11.4],[7.75,12],[7.83,11.4],[7.9,10.7],[7.96,11.4],[8.0,14],[8.06,11.4],[8.13,10.1],[8.2,9.4],[8.27,9.1],[8.33,9.4],[8.4,8.8],[8.47,9.4],[8.53,10.1],[8.61,12.7],[8.68,11.4],[8.75,8.8],[8.82,11.4],[8.88,10.7],[8.95,14],[9.02,10.1],[9.09,9.4],[9.15,11.4],[9.22,14],[9.29,10.1],[9.35,8.1],[9.42,8.8],[9.49,7.5],[9.55,10.7],[9.61,14.7],[9.66,17.3],[9.73,12.7],[9.8,8.8],[9.86,6.8],[9.93,8.8],[10.0,10.7],[10.08,10.1],[10.15,8.8],[10.21,10.1],[10.28,9.4],[10.35,8.1],[10.42,10.1],[10.48,16.7],[10.54,19.9],[10.59,14],[10.66,10.7],[10.72,12],[10.79,14],[10.86,8.8],[10.93,4.1],[10.99,6.1],[11.06,7.4],[11.13,8.8],[11.2,7.4],[11.26,8.8],[11.33,10.1],[11.4,8.8],[11.46,9.4],[11.53,8.8],[11.6,9.4],[11.67,10.1],[11.73,12],[11.8,14],[11.87,19.3],[11.93,14],[12.0,10.1],[12.07,9.4],[12.14,10.1],[12.2,9.4],[12.27,10.7],[12.34,10.1],[12.4,8.8],[12.47,6.1],[12.54,5.5],[12.61,8.8],[12.67,10.1],[12.74,8.8],[12.81,9.4],[12.88,10.1],[12.94,8.8],[13.01,10.1],[13.08,12],[13.14,9.4],[13.21,7.4],[13.28,6.1],[13.35,7.4],[13.41,8.8],[13.48,7.4],[13.55,8.1],[13.61,8.8],[13.68,7.4],[13.75,6.8],[13.82,7.4],[13.88,6.8],[13.95,7.4],[14.03,6.8],[14.1,6.8],[14.17,7.4],[14.25,8.1],[14.31,7.4],[14.38,6.8],[14.45,5.5],[14.52,6.1],[14.58,7.4],[14.65,5.5],[14.72,4.8],[14.78,6.1],[14.85,3.5],[14.92,6.1],[14.99,5.5],[15.05,6.8],[15.12,4.8],[15.19,4.1],[15.25,5.5],[15.32,6.1],[15.39,5.5],[15.46,6.1],[15.52,5.5],[15.59,6.1],[15.66,5.5],[15.73,7.4],[15.79,6.1],[15.86,6.8],[15.93,7.4],[16.0,7.8],[16.06,6.8],[16.13,5.5],[16.2,4.8],[16.26,5.5],[16.33,4.8],[16.4,4.1],[16.46,5.5],[16.53,6.8],[16.6,5.5],[16.67,4.8],[16.73,6.1],[16.8,5.5],[16.87,4.8],[16.93,6.1],[17.0,6.8],[17.07,6.1],[17.14,7.4],[17.2,6.1],[17.27,6.8],[17.34,5.5],[17.41,4.8],[17.49,4.8],[17.58,4.5],[17.66,4.8],[17.74,4.5],[17.82,4.8],[17.9,6.8],[17.96,5.5],[18.03,6.1],[18.1,4.8],[18.16,6.1],[18.23,5.5],[18.3,4.8],[18.37,6.1],[18.43,6.8],[18.5,4.8],[18.57,6.1],[18.64,5.5],[18.7,4.8],[18.77,4.5],[18.84,3.5],[18.9,4.8],[18.97,8.1],[19.04,10.7],[19.11,11.4],[19.17,11.4],[19.24,13.4],[19.31,12],[19.37,10.7],[19.44,12],[19.51,12.7],[19.58,13.4],[19.62,18.6],[19.68,16.7],[19.74,18],[19.81,14.7],[19.88,12.7],[19.96,11.4],[20.03,10.1],[20.11,9.4],[20.18,12],[20.25,15.3],[20.32,14],[20.38,11.4],[20.45,10.1],[20.5,14],[20.55,10.7],[20.6,7.4],[20.63,7.4]];

const postGamma: Pt[] = [[0.09,2.3],[0.11,6.1],[0.16,6.5],[0.25,6.1],[0.33,5.8],[0.4,5.5],[0.48,5.8],[0.54,5.1],[0.63,5.8],[0.72,6.1],[0.79,6.5],[0.87,4.8],[0.95,4.8],[1.03,4.8],[1.12,5.1],[1.22,6.1],[1.3,5.1],[1.39,4.8],[1.49,4.1],[1.57,4.5],[1.66,4.8],[1.74,4.5],[1.82,4.1],[1.91,4.5],[2.0,4.8],[2.08,4.5],[2.16,3.8],[2.24,3.5],[2.33,3.5],[2.41,4.1],[2.49,5.1],[2.58,5.5],[2.67,5.8],[2.75,5.5],[2.83,7.4],[2.92,7.8],[3.0,8.4],[3.08,7.8],[3.17,6.8],[3.25,5.5],[3.34,5.1],[3.41,6.8],[3.49,7.4],[3.54,8.8],[3.59,9.4],[3.64,6.8],[3.7,6.1],[3.77,5.5],[3.84,6.8],[3.9,5.8],[3.99,4.8],[4.08,6.1],[4.15,6.8],[4.23,7.4],[4.31,7.4],[4.4,7.1],[4.48,7.4],[4.56,6.8],[4.64,6.1],[4.73,6.5],[4.82,6.5],[4.9,6.1],[4.98,5.8],[5.07,5.5],[5.13,4.5],[5.2,5.5],[5.29,7.1],[5.37,4.8],[5.45,5.5],[5.54,5.8],[5.62,5.5],[5.71,6.5],[5.77,4.8],[5.84,3.5],[5.92,3.2],[6.01,6.8],[6.1,5.5],[6.18,4.8],[6.26,5.5],[6.34,6.8],[6.41,6.1],[6.5,4.1],[6.58,2.8],[6.66,4.1],[6.71,4.8],[6.77,4.8],[6.85,5.5],[6.91,7.1],[6.97,4.1],[7.06,4.8],[7.12,4.1],[7.21,4.8],[7.28,3.5],[7.34,4.1],[7.43,6.5],[7.51,5.5],[7.59,4.8],[7.68,4.1],[7.77,3.5],[7.85,4.1],[7.93,3.5],[8.0,5.5],[8.06,4.1],[8.13,3.5],[8.22,3.2],[8.31,2.8],[8.39,2.2],[8.47,2.5],[8.55,2.2],[8.64,3.5],[8.72,2.5],[8.8,2.8],[8.89,3.2],[8.98,2.5],[9.06,2.8],[9.14,4.5],[9.23,3.5],[9.31,2.8],[9.39,2.2],[9.47,1.2],[9.56,1.2],[9.65,4.5],[9.72,4.8],[9.8,2.5],[9.88,2.2],[9.97,2.2],[10.05,2.5],[10.13,1.8],[10.21,2.2],[10.3,1.5],[10.39,1.8],[10.47,2.8],[10.55,3.5],[10.64,2.2],[10.72,2.8],[10.79,3.5],[10.86,1.8],[10.94,1.2],[11.02,1.5],[11.11,1.8],[11.2,1.5],[11.28,1.8],[11.36,2.5],[11.44,1.8],[11.53,2.2],[11.61,2.2],[11.69,2.8],[11.76,2.5],[11.83,3.5],[11.91,2.8],[12.0,2.2],[12.08,1.8],[12.16,2.2],[12.25,1.8],[12.34,2.2],[12.42,1.8],[12.5,1.2],[12.59,2.2],[12.67,2.5],[12.75,1.8],[12.84,2.8],[12.92,2.2],[13.01,2.8],[13.09,2.2],[13.17,1.8],[13.26,2.2],[13.35,1.8],[13.43,1.8],[13.51,1.5],[13.59,1.8],[13.68,1.5],[13.76,2.2],[13.86,1.8],[13.95,2.2],[14.03,2.5],[14.13,1.8],[14.23,1.5],[14.33,1.2],[14.43,1.8],[14.54,1.2],[14.64,1.8],[14.74,1.2],[14.84,1.5],[14.94,1.2],[15.04,1.8],[15.14,1.5],[15.24,1.2],[15.34,1.5],[15.44,1.6],[15.54,1.5],[15.64,1.8],[15.75,1.6],[15.85,1.8],[15.95,1.5],[16.05,1.8],[16.15,1.5],[16.25,1.4],[16.35,1.6],[16.45,1.2],[16.55,1.5],[16.65,1.2],[16.75,1.5],[16.85,1.2],[16.96,1.6],[17.06,1.4],[17.16,1.5],[17.26,1.8],[17.32,2.2],[17.43,1.2],[17.53,1.2],[17.63,1.5],[17.73,1.4],[17.83,1.5],[17.93,1.2],[18.0,0.9],[18.1,1.2],[18.2,1.5],[18.3,1.8],[18.4,1.5],[18.5,1.6],[18.6,1.4],[18.7,1.2],[18.8,1.2],[18.9,1.2],[19.0,1.5],[19.07,2.2],[19.15,2.8],[19.24,3.4],[19.34,3.5],[19.42,4.8],[19.49,10.1],[19.54,10.7],[19.6,8.8],[19.64,8.8],[19.69,9.1],[19.74,8.4],[19.8,8.8],[19.85,6.8],[19.91,4.8],[19.98,4.1],[20.07,3.5],[20.15,3.2],[20.21,4.1],[20.28,4.5],[20.35,2.8],[20.42,2.2],[20.48,2.8],[20.54,4.8],[20.58,6.1],[20.63,6.1]];

const morningSeries = [morningDelta, morningTheta, morningAlpha, morningBeta, morningGamma];
const postSeries = [postDelta, postTheta, postAlpha, postBeta, postGamma];

// ---------------- layout ----------------
const W = 1189;
const H = 1000;
const FONT = "'DejaVu Sans', Verdana, sans-serif";
const TICK_FS = 13.9;
const TITLE_FS = 16.7;
const AX_L = 57.5;
const AX_R = 1179.5;
const TICK_LEN = 4.9;
const LINE_W = 2.08;

type PanelProps = {
  series: Pt[][];
  top: number;
  bottom: number;
  title: string;
  legend: boolean;
  xLabel: boolean;
};

function Panel({ series, top, bottom, title, legend, xLabel }: PanelProps) {
  const all = series.flat();
  const ext = d3.extent(all, (d) => d[0]) as [number, number];
  const m = (ext[1] - ext[0]) * 0.05;
  const x = d3.scaleLinear().domain([ext[0] - m, ext[1] + m]).range([AX_L, AX_R]);
  const y = d3.scaleLinear().domain(Y_DOMAIN).range([bottom, top]);
  const line = d3
    .line<Pt>()
    .x((d) => x(d[0]))
    .y((d) => y(d[1]));
  const cx = (AX_L + AX_R) / 2;
  const cy = (top + bottom) / 2;

  // legend geometry (matplotlib-like, upper right, 3 columns)
  const legW = 317.6;
  const legH = 45.7;
  const legX = AX_R - 6.9 - legW;
  const legY = top + 6.9;
  const colHandle = [5.3, 110.8, 217.3];
  const rowY = [11.7, 32.6];

  return (
    <g>
      <text x={cx} y={top - 8.3} textAnchor="middle" fontSize={TITLE_FS}>
        {title}
      </text>
      {series.map((s, i) => (
        <path
          key={BANDS[i]}
          d={line(s) || ""}
          fill="none"
          stroke={BAND_COLORS[i]}
          strokeWidth={LINE_W}
          strokeLinejoin="round"
          strokeLinecap="square"
        />
      ))}
      <rect
        x={AX_L}
        y={top}
        width={AX_R - AX_L}
        height={bottom - top}
        fill="none"
        stroke="#000"
        strokeWidth={1.1}
      />
      {Y_TICKS.map((t) => (
        <g key={"y" + t}>
          <line x1={AX_L - TICK_LEN} x2={AX_L} y1={y(t)} y2={y(t)} stroke="#000" strokeWidth={1.1} />
          <text x={AX_L - TICK_LEN - 4.9} y={y(t) + 5} textAnchor="end" fontSize={TICK_FS}>
            {t}
          </text>
        </g>
      ))}
      {X_TICKS.map((t) => (
        <g key={"x" + t}>
          <line x1={x(t)} x2={x(t)} y1={bottom} y2={bottom + TICK_LEN} stroke="#000" strokeWidth={1.1} />
          <text x={x(t)} y={bottom + 20} textAnchor="middle" fontSize={TICK_FS}>
            {t}
          </text>
        </g>
      ))}
      <text
        transform={`translate(18.3, ${cy}) rotate(-90)`}
        textAnchor="middle"
        fontSize={TICK_FS}
      >
        {Y_LABEL}
      </text>
      {xLabel && (
        <text x={cx} y={bottom + 40} textAnchor="middle" fontSize={TICK_FS}>
          {X_LABEL}
        </text>
      )}
      {legend && (
        <g transform={`translate(${legX}, ${legY})`}>
          <rect
            x={0}
            y={0}
            width={legW}
            height={legH}
            rx={2.8}
            fill="#fff"
            fillOpacity={0.8}
            stroke="#cccccc"
            strokeWidth={1.1}
          />
          {BANDS.map((b, i) => {
            const col = Math.floor(i / 2);
            const row = i % 2;
            const hx = colHandle[col];
            const hy = rowY[row];
            return (
              <g key={"leg" + b}>
                <line
                  x1={hx}
                  x2={hx + 27.8}
                  y1={hy}
                  y2={hy}
                  stroke={BAND_COLORS[i]}
                  strokeWidth={LINE_W}
                  strokeLinecap="square"
                />
                <text x={hx + 39} y={hy + 5} fontSize={TICK_FS}>
                  {b}
                </text>
              </g>
            );
          })}
        </g>
      )}
    </g>
  );
}

export default function App() {
  return (
    <svg
      width={W}
      height={H}
      viewBox={`0 0 ${W} ${H}`}
      style={{ position: "absolute", left: 0, top: 0, display: "block", background: "#fff" }}
      fontFamily={FONT}
      fill="#000"
    >
      <rect x={0} y={0} width={W} height={H} fill="#fff" />
      <text x={W / 2} y={24} textAnchor="middle" fontSize={TITLE_FS}>
        {SUPTITLE}
      </text>
      <Panel series={morningSeries} top={75.5} bottom={481.3} title={PANEL_TITLES[0]} legend={true} xLabel={false} />
      <Panel series={postSeries} top={542.3} bottom={947.3} title={PANEL_TITLES[1]} legend={false} xLabel={true} />
    </svg>
  );
}
